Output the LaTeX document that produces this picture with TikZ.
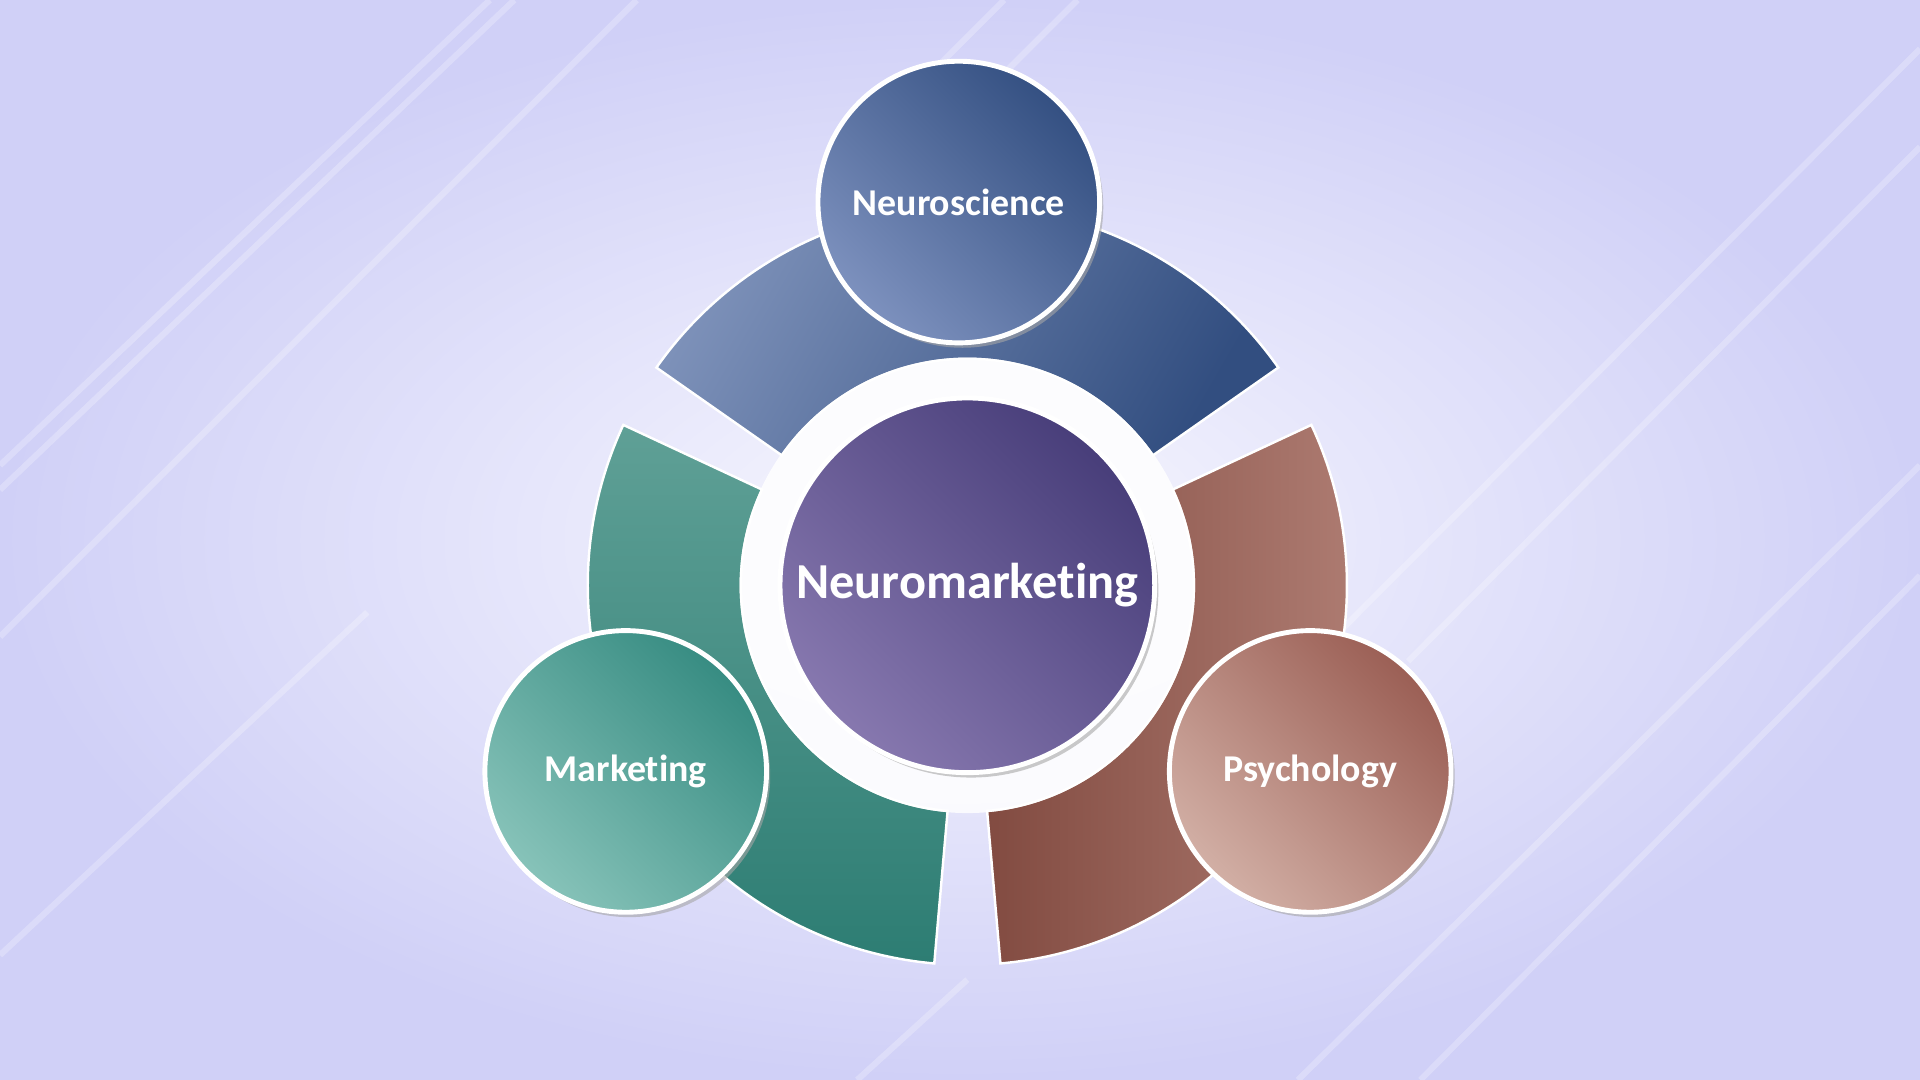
\documentclass[tikz,border=0pt]{standalone}
\usepackage{fontspec}
\setmainfont{Carlito}[Ligatures=NoCommon]
\usetikzlibrary{shadows,calc}
\begin{document}
\begin{tikzpicture}[x=1mm,y=-1mm,
  lbl/.style={text=white,font=\bfseries\fontsize{88}{88}\selectfont},
  smallc/.style={circle,minimum size=230mm,draw=white,line width=4mm,inner sep=0pt,
     drop shadow={shadow xshift=3mm,shadow yshift=-4mm,fill=black!35,opacity=0.6}},
  seg/.style={draw=white,line width=2mm}]
% background
\shade[inner color={rgb,255:red,248;green,248;blue,254},outer color={rgb,255:red,208;green,208;blue,247}]
  (0,0) rectangle (1568,882);
\path[use as bounding box] (0,0) rectangle (1568,882);
\begin{scope}[white,opacity=0.25,line width=5mm]
\draw (0,380) -- (400,0);
\draw (0,400) -- (420,0);
\draw (0,520) -- (520,0);
\draw (1568,40) -- (1050,560);
\draw (1568,120) -- (1150,540);
\draw (1568,380) -- (1060,882);
\draw (1568,470) -- (1160,882);
\draw (820,0) -- (760,60);
\draw (880,0) -- (820,60);
\draw (0,780) -- (300,500);
\draw (700,882) -- (790,800);
\end{scope}
\coordinate (c) at (790,478);
% shadows of segments
\foreach \a/\b in {35/145,155/265,275/385}{
  \fill[black!30,opacity=0.5,shift={(4,5)}] ($(c)+(\a:185 and -185)$) arc[start angle=\a,end angle=\b,x radius=185,y radius=-185]
   -- ($(c)+(\b:310 and -310)$) arc[start angle=\b,end angle=\a,x radius=310,y radius=-310] -- cycle;}
\shade[seg,left color={rgb,255:red,125;green,145;blue,185},right color={rgb,255:red,50;green,78;blue,128},shading angle=60]
  ($(c)+(35:185 and -185)$) arc[start angle=35,end angle=145,x radius=185,y radius=-185]
   -- ($(c)+(145:310 and -310)$) arc[start angle=145,end angle=35,x radius=310,y radius=-310] -- cycle;
\shade[seg,top color={rgb,255:red,95;green,160;blue,150},bottom color={rgb,255:red,45;green,125;blue,115}]
  ($(c)+(155:185 and -185)$) arc[start angle=155,end angle=265,x radius=185,y radius=-185]
   -- ($(c)+(265:310 and -310)$) arc[start angle=265,end angle=155,x radius=310,y radius=-310] -- cycle;
\shade[seg,left color={rgb,255:red,130;green,75;blue,65},right color={rgb,255:red,175;green,125;blue,115}]
  ($(c)+(275:185 and -185)$) arc[start angle=275,end angle=385,x radius=185,y radius=-185]
   -- ($(c)+(385:310 and -310)$) arc[start angle=385,end angle=275,x radius=310,y radius=-310] -- cycle;
% ring
\fill[white,opacity=0.85] (c) circle (186);
\node[circle,minimum size=306mm,draw=white,line width=4mm,inner sep=0pt,
  drop shadow={shadow xshift=3mm,shadow yshift=-4mm,fill=black!35,opacity=0.6},
  left color={rgb,255:red,135;green,120;blue,175},right color={rgb,255:red,72;green,62;blue,122},shading angle=135,
  text=white,font=\bfseries\fontsize{117}{117}\selectfont] (nm) at (c) {Neuromarketing};
\node[smallc,left color={rgb,255:red,125;green,145;blue,190},right color={rgb,255:red,52;green,80;blue,130},shading angle=135,lbl] (ns) at (783,165) {Neuroscience};
\node[smallc,left color={rgb,255:red,135;green,195;blue,185},right color={rgb,255:red,55;green,140;blue,130},shading angle=135,lbl] (mk) at (511,630) {Marketing};
\node[smallc,left color={rgb,255:red,210;green,175;blue,165},right color={rgb,255:red,155;green,95;blue,85},shading angle=135,lbl] (ps) at (1070,630) {Psychology};
\end{tikzpicture}
\end{document}
